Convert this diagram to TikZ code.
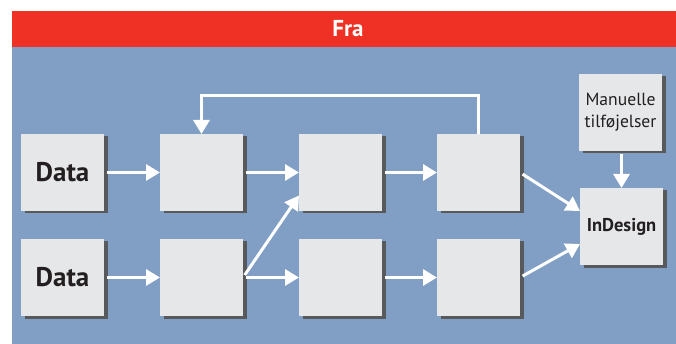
\documentclass[tikz,border=0pt]{standalone}
\usepackage{fontspec}
\setmainfont{PT Sans}
\usetikzlibrary{arrows.meta,shadows}
\definecolor{frared}{HTML}{EE3124}
\definecolor{frablue}{HTML}{819FC4}
\definecolor{boxgray}{HTML}{E6E7E9}
\definecolor{shadowgray}{HTML}{58595B}
\definecolor{txtdark}{HTML}{231F20}
\tikzset{
  stepbox/.style={fill=boxgray, minimum width=83pt, minimum height=77pt, inner sep=0pt, outer sep=0pt,
    text=txtdark, drop shadow={shadow xshift=3.5pt, shadow yshift=-2.5pt, fill=shadowgray, opacity=1}},
  flow/.style={draw=white, line width=3pt, shorten <=3pt, -{Triangle[width=16pt,length=14pt]}},
  datafont/.style={font=\bfseries\fontsize{27}{27}\selectfont}
}
\begin{document}
\begin{tikzpicture}[x=1pt,y=-1pt]
  \useasboundingbox (0,0) rectangle (676,344);
  \fill[frablue] (12,47) rectangle (676,344);
  \fill[frared] (12,11) rectangle (676,47);
  \node[text=white, font=\bfseries\fontsize{23}{23}\selectfont] (title) at (348,29) {Fra};
  % boxes
  \node[stepbox, datafont] (data1) at (62.5,172.5) {Data};
  \node[stepbox, datafont] (data2) at (62.5,277.5) {Data};
  \node[stepbox] (p1) at (201.5,172.5) {};
  \node[stepbox] (p2) at (340.5,172.5) {};
  \node[stepbox] (p3) at (478.5,172.5) {};
  \node[stepbox] (q1) at (201.5,277.5) {};
  \node[stepbox] (q2) at (340.5,277.5) {};
  \node[stepbox] (q3) at (478.5,277.5) {};
  \node[stepbox, align=center, font=\fontsize{17.6}{22}\selectfont] (manual) at (620.5,112.5) {Manuelle\\tilføjelser};
  \node[stepbox, font=\bfseries\fontsize{18.5}{18.5}\selectfont] (indesign) at (621.5,226.5) {InDesign};
  % arrows
  \draw[flow] (data1.east) -- (p1.west);
  \draw[flow] (p1.east) -- (p2.west);
  \draw[flow] (p2.east) -- (p3.west);
  \draw[flow] (data2.east) -- (q1.west);
  \draw[flow] (q1.east) -- (q2.west);
  \draw[flow] (q2.east) -- (q3.west);
  \draw[flow] (q1.east) -- ([yshift=-23pt]p2.west);
  \draw[flow, shorten <=0pt] (p3.north) -- ++(0,-38) -| (p1.north);
  \draw[flow] (p3.east) -- ([yshift=15.5pt]indesign.west);
  \draw[flow] (q3.east) -- ([yshift=-17.5pt]indesign.west);
  \draw[flow] (manual.south -| indesign.north) -- (indesign.north);
\end{tikzpicture}
\end{document}
